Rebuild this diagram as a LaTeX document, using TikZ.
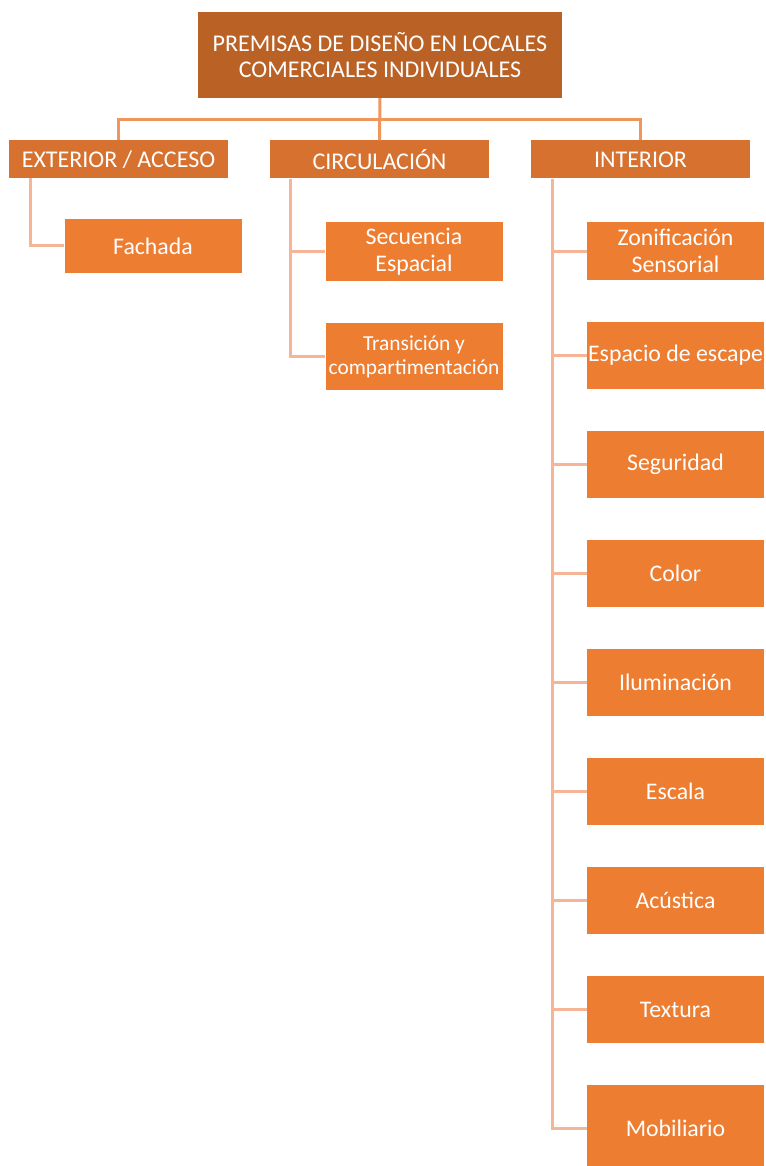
\documentclass[tikz,border=0pt]{standalone}
\usepackage{fontspec}
\setmainfont{Carlito}
\definecolor{topc}{HTML}{BA6125}
\definecolor{midc}{HTML}{D6712F}
\definecolor{leafc}{HTML}{ED7D31}
\definecolor{linetop}{HTML}{F0955C}
\definecolor{lineleaf}{HTML}{F5B596}
\tikzset{
  box/.style={fill=#1, draw=none, text=white, inner sep=0pt, align=center},
  topbox/.style={box=topc, font=\fontsize{24}{26}\selectfont},
  midbox/.style={box=midc, font=\fontsize{24}{26}\selectfont},
  leafbox/.style={box=leafc, font=\fontsize{23.8}{27}\selectfont},
  smallleaf/.style={box=leafc, font=\fontsize{21.4}{24}\selectfont},
  topline/.style={draw=linetop, line width=3pt},
  leafline/.style={draw=lineleaf, line width=3pt},
}
\begin{document}
\begin{tikzpicture}[x=1pt,y=-1pt]
\useasboundingbox (0,0) rectangle (765,1166);
% top
\node[topbox, minimum width=364pt, minimum height=86pt] (top) at (380,55) {PREMISAS DE DISEÑO EN LOCALES\\COMERCIALES INDIVIDUALES};
% level 2
\node[midbox, minimum width=219pt, minimum height=38pt] (ext) at (118.5,159.5) {EXTERIOR / ACCESO};
\node[midbox, minimum width=219pt, minimum height=38pt] (cir) at (379.5,159.5) {CIRCULACIÓN};
\node[midbox, minimum width=219pt, minimum height=38pt] (int) at (640.5,159.5) {INTERIOR};
% connectors top
\coordinate (bar) at (380,120);
\draw[topline] (top.south) -- (cir.north);
\draw[topline] (ext.north) |- (bar) -| (int.north);
% exterior
\node[leafbox, minimum width=177pt, minimum height=53pt] (fac) at (153,246) {Fachada};
\draw[leafline] (30,178) |- (fac.west);
% circulacion
\node[leafbox, minimum width=177pt, minimum height=59pt] (sec) at (414,251.5) {Secuencia\\Espacial};
\node[smallleaf, minimum width=177pt, minimum height=67pt] (tra) at (414,356.5) {Transición y\\compartimentación};
\draw[leafline] (290,179) |- (tra.west);
\draw[leafline] (290,251.5) -- (sec.west);
% interior
\coordinate (itop) at (552,179);
\node[leafbox, minimum width=177pt, minimum height=58pt] (zon) at (675.5,251) {Zonificación\\Sensorial};
\node[leafbox, minimum width=177pt, minimum height=67pt] (esc) at (675.5,355.5) {Espacio de escape};
\node[leafbox, minimum width=177pt, minimum height=67pt] (seg) at (675.5,464.5) {Seguridad};
\node[leafbox, minimum width=177pt, minimum height=67pt] (col) at (675.5,573.5) {Color};
\node[leafbox, minimum width=177pt, minimum height=67pt] (ilu) at (675.5,682.5) {Iluminación};
\node[leafbox, minimum width=177pt, minimum height=67pt] (esa) at (675.5,791.5) {Escala};
\node[leafbox, minimum width=177pt, minimum height=67pt] (acu) at (675.5,900.5) {Acústica};
\node[leafbox, minimum width=177pt, minimum height=67pt] (tex) at (675.5,1009.5) {Textura};
\node[leafbox, minimum width=177pt, minimum height=86pt] (mob) at (675.5,1128) {Mobiliario};
\draw[leafline] (itop) |- (mob.west);
\foreach \n in {zon,esc,seg,col,ilu,esa,acu,tex}
  \draw[leafline] (552,0 |- \n.west) -- (\n.west);
\end{tikzpicture}
\end{document}
